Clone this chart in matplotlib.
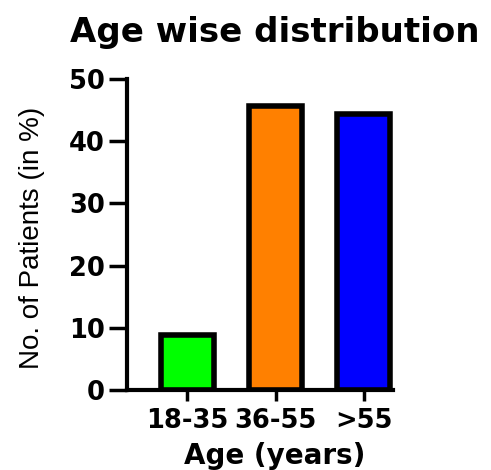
import matplotlib
matplotlib.use('Agg')
import matplotlib.pyplot as plt

# --- Data ---
age_groups = ['18-35', '36-55', '>55']
patients_pct = [8.9, 45.6, 44.4]
bar_colors = ['#00ff00', '#ff8000', '#0000ff']
y_ticks = [0, 10, 20, 30, 40, 50]

fig = plt.figure(figsize=(4.91, 4.70), dpi=100)
ax = fig.add_axes([0.2587, 0.1702, 0.5418, 0.6617])

x = range(len(age_groups))
ax.bar(x, patients_pct, width=0.6, color=bar_colors, edgecolor='black', linewidth=4)

ax.set_xlim(-0.68, 2.33)
ax.set_ylim(0, 50)
ax.set_yticks(y_ticks)
ax.set_xticks(list(x))
ax.set_xticklabels(age_groups)

for side in ['top', 'right']:
    ax.spines[side].set_visible(False)
for side in ['left', 'bottom']:
    ax.spines[side].set_linewidth(3)

ax.tick_params(axis='y', length=13, width=2.5, pad=3, labelsize=18.5)
ax.tick_params(axis='x', length=8, width=2.5, pad=5, labelsize=18.5)
for lbl in ax.get_xticklabels() + ax.get_yticklabels():
    lbl.set_fontfamily('DejaVu Sans')
    lbl.set_fontweight('bold')

ax.set_title('Age wise distribution', fontsize=24.5, fontweight='bold',
             family='DejaVu Sans', x=0.5545, pad=27)
ax.set_xlabel('Age (years)', fontsize=20, fontweight='bold', family='DejaVu Sans')
ax.xaxis.set_label_coords(0.5545, -0.168)
ax.set_ylabel('No. of Patients (in %)', fontsize=20, family='Liberation Sans')
ax.yaxis.set_label_coords(-0.31, 0.49)

plt.savefig('out.png', dpi=100)
